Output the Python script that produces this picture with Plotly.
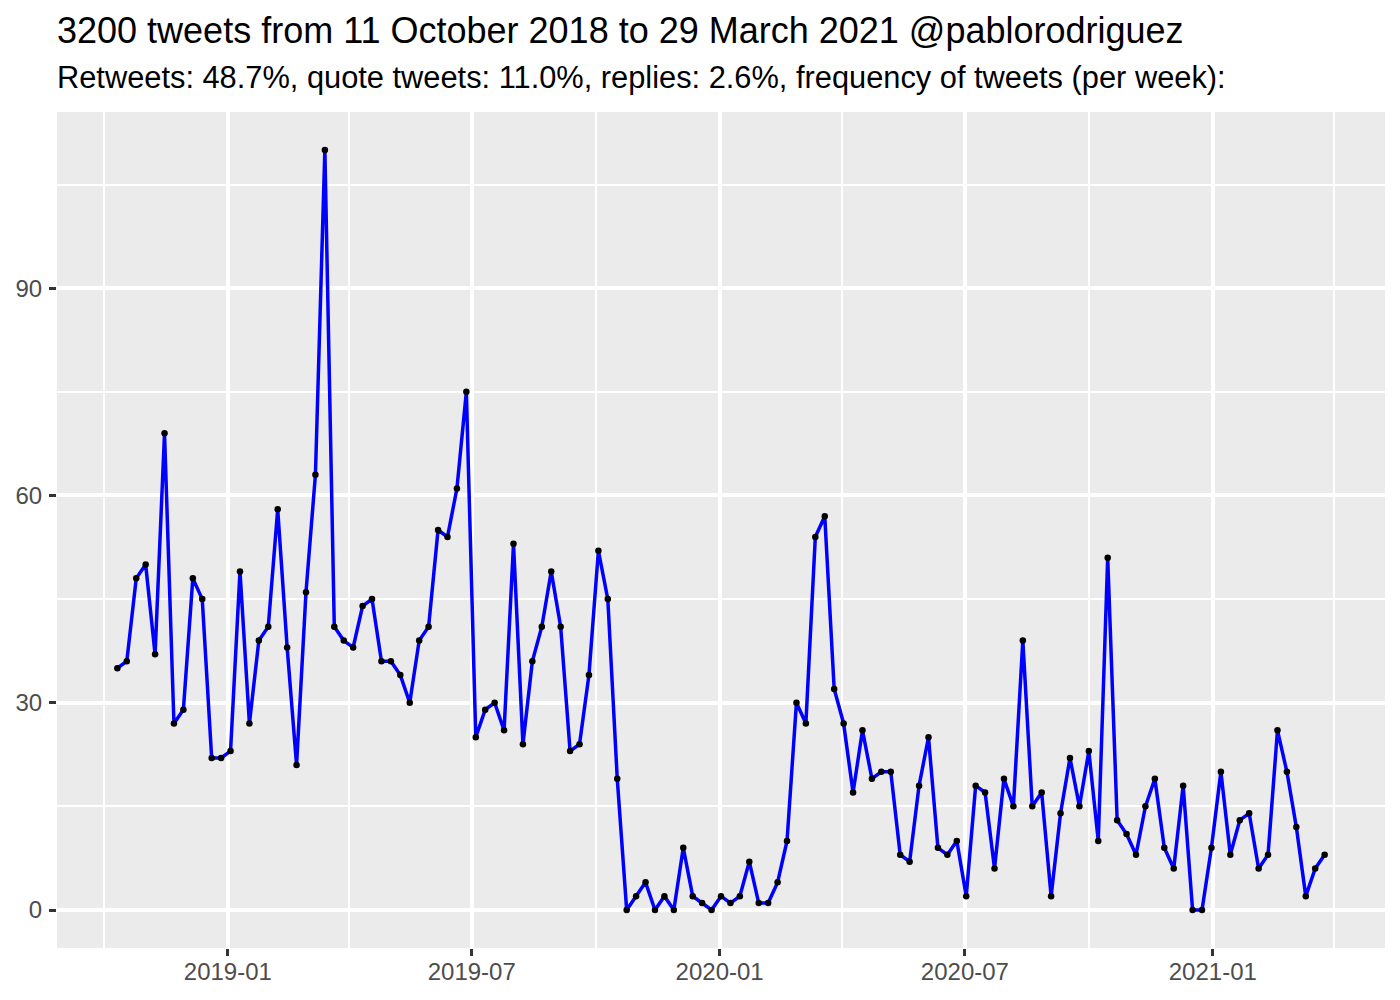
import pandas as pd
import plotly.graph_objects as go

# Weekly tweet counts, weeks starting 11 October 2018
start_date = "2018-10-11"
tweets_per_week = [
    35, 36, 48, 50, 37, 69, 27, 29, 48, 45,
    22, 22, 23, 49, 27, 39, 41, 58, 38, 21,
    46, 63, 110, 41, 39, 38, 44, 45, 36, 36,
    34, 30, 39, 41, 55, 54, 61, 75, 25, 29,
    30, 26, 53, 24, 36, 41, 49, 41, 23, 24,
    34, 52, 45, 19, 0, 2, 4, 0, 2, 0,
    9, 2, 1, 0, 2, 1, 2, 7, 1, 1,
    4, 10, 30, 27, 54, 57, 32, 27, 17, 26,
    19, 20, 20, 8, 7, 18, 25, 9, 8, 10,
    2, 18, 17, 6, 19, 15, 39, 15, 17, 2,
    14, 22, 15, 23, 10, 51, 13, 11, 8, 15,
    19, 9, 6, 18, 0, 0, 9, 20, 8, 13,
    14, 6, 8, 26, 20, 12, 2, 6, 8,
]
week_dates = pd.date_range(start_date, periods=len(tweets_per_week), freq="7D")

title_text = "3200 tweets from 11 October 2018 to 29 March 2021 @pablorodriguez"
subtitle_text = "Retweets: 48.7%, quote tweets: 11.0%, replies: 2.6%, frequency of tweets (per week):"

fig = go.Figure()
fig.add_trace(go.Scatter(
    x=week_dates, y=tweets_per_week, mode="lines+markers",
    line=dict(color="#0000FF", width=3.5),
    marker=dict(color="black", size=6.5),
    showlegend=False,
))

# ggplot-style 5% expansion
d0, d1 = week_dates[0], week_dates[-1]
span = d1 - d0
xr = [d0 - span * 0.05, d1 + span * 0.05]
ymax = max(tweets_per_week)
yr = [-0.05 * ymax, ymax * 1.05]

FONT = "Liberation Sans, Arial, sans-serif"
TICKFONT = dict(size=24, color="#4D4D4D", family=FONT)
fig.update_layout(
    width=1392, height=992,
    margin=dict(l=49, r=15, t=104, b=52),
    paper_bgcolor="white", plot_bgcolor="#EBEBEB",
    font=dict(family=FONT),
    xaxis=dict(
        range=xr, type="date", tick0="2019-01-01", dtick="M6", tickformat="%Y-%m",
        showgrid=True, gridcolor="white", gridwidth=3.5,
        ticks="outside", ticklen=7, tickwidth=3, tickcolor="#333333",
        tickfont=TICKFONT, automargin=False, ticklabelstandoff=-5,
        minor=dict(tick0="2018-10-01", dtick="M3", showgrid=True, gridcolor="white", gridwidth=1.8),
        zeroline=False, showline=False,
    ),
    yaxis=dict(
        range=yr, tick0=0, dtick=30,
        showgrid=True, gridcolor="white", gridwidth=3.5,
        ticks="outside", ticklen=7, tickwidth=3, tickcolor="#333333",
        tickfont=TICKFONT, automargin=False, ticklabelstandoff=2,
        minor=dict(tick0=15, dtick=30, showgrid=True, gridcolor="white", gridwidth=1.8),
        zeroline=False, showline=False,
    ),
    annotations=[
        dict(text=title_text, xref="paper", yref="paper", x=0, y=1, xanchor="left",
             yanchor="middle", yshift=82, xshift=-2, showarrow=False,
             font=dict(size=36, color="black", family=FONT)),
        dict(text=subtitle_text, xref="paper", yref="paper", x=0, y=1, xanchor="left",
             yanchor="middle", yshift=35, xshift=-2, showarrow=False,
             font=dict(size=30.8, color="black", family=FONT)),
    ],
)

fig.write_html("out.html")
